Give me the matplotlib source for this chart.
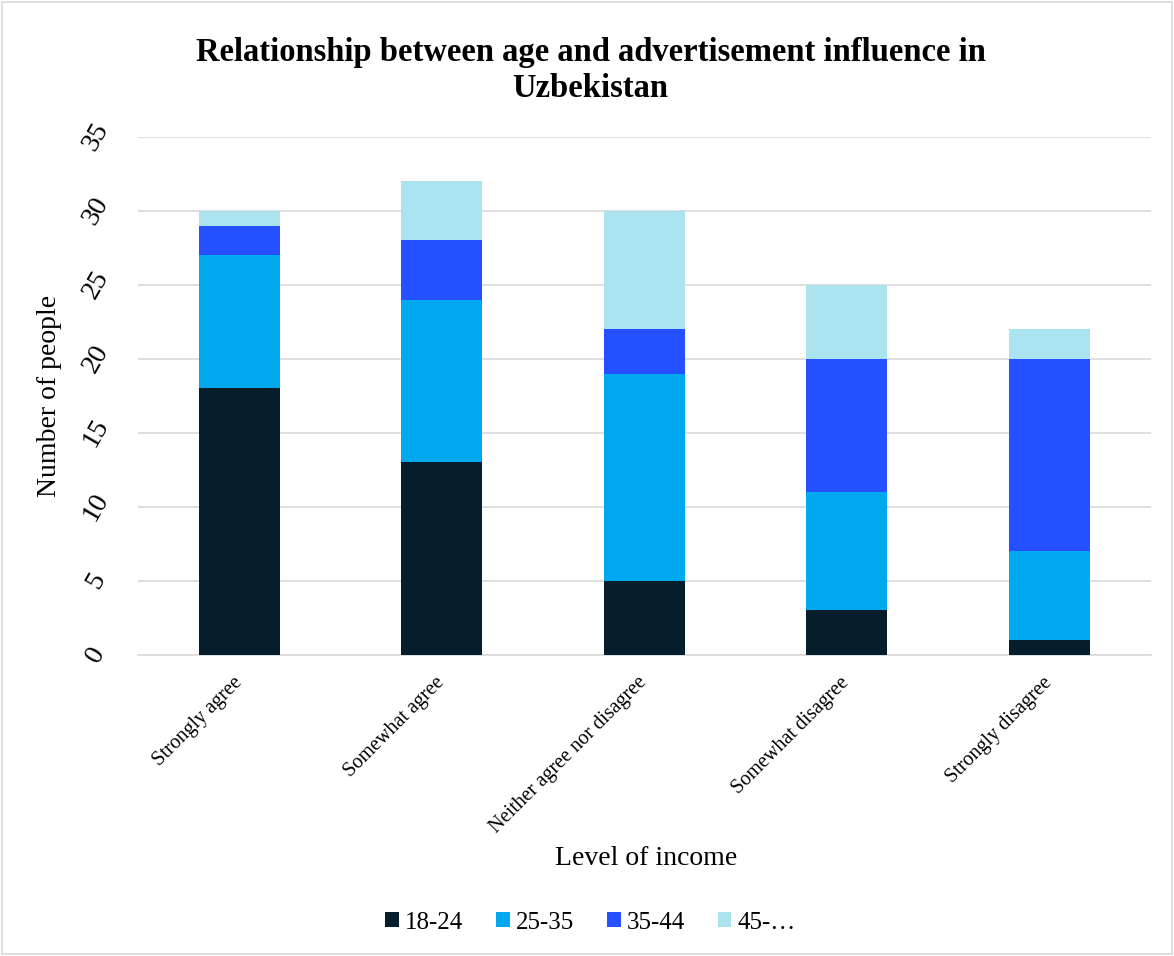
import matplotlib
matplotlib.use("Agg")
import matplotlib.pyplot as plt
import numpy as np
from matplotlib.patches import Rectangle

categories = ["Strongly agree", "Somewhat agree", "Neither agree nor disagree",
              "Somewhat disagree", "Strongly disagree"]
series_names = ["18-24", "25-35", "35-44", "45-…"]
s18_24 = [18, 13, 5, 3, 1]
s25_35 = [9, 11, 14, 8, 6]
s35_44 = [2, 4, 3, 9, 13]
s45 = [1, 4, 8, 5, 2]
y_ticks = [0, 5, 10, 15, 20, 25, 30, 35]

colors = ["#061d2c", "#00a8f0", "#2550ff", "#abe4ee"]

plt.rcParams['font.family'] = ['Liberation Serif', 'DejaVu Serif']

fig = plt.figure(figsize=(11.74, 9.56), dpi=100)
ax = fig.add_axes([0.1175, 0.315, 0.8625, 0.542])

x = np.arange(len(categories))
bottom = np.zeros(len(categories))
for name, vals, c in zip(series_names, [s18_24, s25_35, s35_44, s45], colors):
    ax.bar(x, vals, width=0.4, bottom=bottom, color=c, label=name, zorder=3)
    bottom += np.array(vals)

ax.set_xlim(-0.5, len(categories) - 0.5)
ax.set_ylim(0, 35)
ax.set_yticks(y_ticks)
ax.set_yticklabels([str(v) for v in y_ticks], rotation=60, fontsize=20,
                   ha='center', va='center')
ax.set_xticks(x)
ax.set_xticklabels(categories, rotation=45, ha='right', va='center',
                   rotation_mode='anchor', fontsize=14.5)
ax.tick_params(axis='both', length=0)
ax.tick_params(axis='y', pad=30)
ax.tick_params(axis='x', pad=18)
ax.grid(axis='y', color='#d9d9d9', linewidth=1.2, zorder=0)
for s in ['top', 'right', 'left']:
    ax.spines[s].set_visible(False)
ax.spines['bottom'].set_color('#d9d9d9')
ax.spines['bottom'].set_linewidth(1.2)

ax.set_ylabel("Number of people", fontsize=20)
ax.yaxis.set_label_coords(-0.075, 0.5)
fig.text(0.55, 0.102, "Level of income", ha='center', va='center', fontsize=20)
fig.text(0.503, 0.926, "Relationship between age and advertisement influence in\nUzbekistan",
         ha='center', va='center', fontsize=23.5, fontweight='bold', linespacing=1.22)

leg = fig.legend(loc='center', bbox_to_anchor=(0.503, 0.035), ncol=4, frameon=False,
                 fontsize=18, handlelength=0.55, handleheight=0.55, columnspacing=1.3,
                 handletextpad=0.25)

fig.patches.append(Rectangle((0.002, 0.002), 0.996, 0.996, transform=fig.transFigure,
                             fill=False, edgecolor='#d9d9d9', linewidth=1.2))

fig.savefig("out.png", dpi=100)
